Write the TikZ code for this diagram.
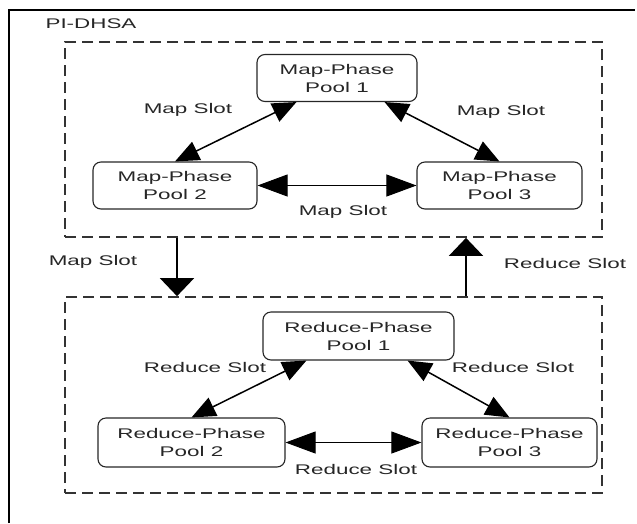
\documentclass[tikz,border=0pt]{standalone}
\usepackage{fontspec}
\newfontfamily\diafont{Liberation Sans}[FakeStretch=1.6]
\usetikzlibrary{arrows.meta}

\tikzset{
  pool/.style={draw=black!85, line width=1.1pt, rounded corners=8pt, align=center,
    inner sep=0pt, font=\diafont\fontsize{14}{18}\selectfont, text=black!85},
  grp/.style={draw=black!80, line width=1.7pt, dash pattern=on 11pt off 6pt, inner sep=0pt},
  slot/.style={font=\diafont\fontsize{14}{17}\selectfont, text=black!85, inner sep=1pt},
  harr/.style={{Triangle[length=30pt,width=22pt]}-{Triangle[length=30pt,width=22pt]}, line width=0.9pt},
  darr/.style={{Triangle[length=24pt,width=20pt]}-{Triangle[length=24pt,width=20pt]}, line width=1.5pt},
  varr/.style={-{Triangle[length=18pt,width=34pt]}, line width=1.5pt}
}

\begin{document}
\begin{tikzpicture}[x=1pt,y=-1pt]
\useasboundingbox (0,0) rectangle (637,523);
%% outer frame
\draw[line width=2.5pt] (9,523) -- (9,10) -- (635,10);
\node[slot] (title) at (91,24) {PI-DHSA};
%% map phase
\node[grp, minimum width=537pt, minimum height=195pt] (mapgrp) at (333.5,139.5) {};
\node[pool, minimum width=160pt, minimum height=47pt] (mp1) at (337,78) {Map-Phase\\Pool 1};
\node[pool, minimum width=164pt, minimum height=47pt] (mp2) at (175,185.5) {Map-Phase\\Pool 2};
\node[pool, minimum width=165pt, minimum height=47pt] (mp3) at (499.5,185.5) {Map-Phase\\Pool 3};
\draw[darr] ([xshift=40pt]mp1.south west) -- (mp2.north);
\draw[darr] ([xshift=-33pt]mp1.south east) -- (mp3.north);
\draw[harr] (mp2.east) -- (mp3.west);
\node[slot] (ms1) at (188,110) {Map Slot};
\node[slot] (ms2) at (501,112) {Map Slot};
\node[slot] (ms3) at (343,212) {Map Slot};
%% reduce phase
\node[grp, minimum width=537pt, minimum height=196pt] (redgrp) at (333.5,395) {};
\node[pool, minimum width=191pt, minimum height=48pt] (rp1) at (358.5,336) {Reduce-Phase\\Pool 1};
\node[pool, minimum width=187pt, minimum height=49pt] (rp2) at (191.5,442.5) {Reduce-Phase\\Pool 2};
\node[pool, minimum width=175pt, minimum height=49pt] (rp3) at (509.5,442.5) {Reduce-Phase\\Pool 3};
\draw[darr] ([xshift=44pt]rp1.south west) -- (rp2.north);
\draw[darr] ([xshift=-47pt]rp1.south east) -- (rp3.north);
\draw[harr] (rp2.east) -- (rp3.west);
\node[slot] (rs1) at (205,367) {Reduce Slot};
\node[slot] (rs2) at (513,367) {Reduce Slot};
\node[slot] (rs3) at (356,469) {Reduce Slot};
%% between phases
\draw[varr] ([xshift=-156.5pt]mapgrp.south) -- ([xshift=-156.5pt]redgrp.north);
\draw[varr] ([xshift=132.5pt]redgrp.north) -- ([xshift=132.5pt]mapgrp.south);
\node[slot] (ms4) at (93,262) {Map Slot};
\node[slot] (rs4) at (565,263) {Reduce Slot};
\end{tikzpicture}
\end{document}
